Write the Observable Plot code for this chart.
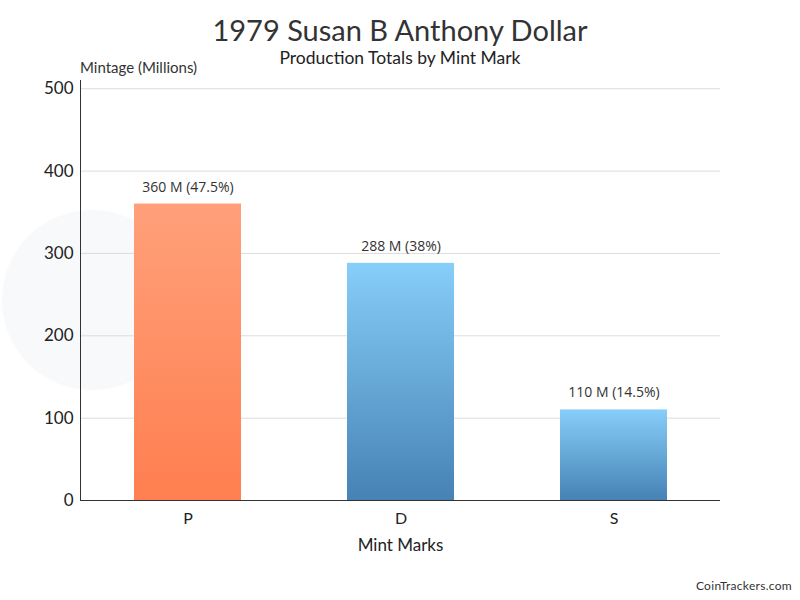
<!DOCTYPE html>
<html>
<head>
<meta charset="utf-8">
<script src="https://cdn.jsdelivr.net/npm/d3@7"></script>
<script src="https://cdn.jsdelivr.net/npm/@observablehq/plot@0.6"></script>
<style>
  html, body { margin: 0; padding: 0; background: #fff; }
  #wrap { position: relative; width: 800px; height: 600px; overflow: hidden; font-family: Lato, "Open Sans", sans-serif; color: #333; }
  .abs { position: absolute; white-space: nowrap; }
  #title { top: 12px; left: 0; width: 800px; text-align: center; font-size: 29px; color: #333; }
  #subtitle { top: 47px; left: 0; width: 800px; text-align: center; font-size: 17.5px; color: #222; }
  #ylabel { top: 58px; left: 80px; font-size: 15px; color: #333; }
  #credit { top: 578px; right: 8px; font-size: 12px; color: #333; letter-spacing: 0.3px; }
  #chart { position: absolute; top: 0; left: 0; }
</style>
</head>
<body>
<div id="wrap">
  <div id="chart"></div>
  <div class="abs" id="title">1979 Susan B Anthony Dollar</div>
  <div class="abs" id="subtitle">Production Totals by Mint Mark</div>
  <div class="abs" id="ylabel">Mintage (Millions)</div>
  <div class="abs" id="credit">CoinTrackers.com</div>
</div>
<script>
const mints = ["P", "D", "S"];
const mintage = [360, 288, 110];
const labels = ["360 M (47.5%)", "288 M (38%)", "110 M (14.5%)"];
const yTicks = [0, 100, 200, 300, 400, 500];

const data = mints.map((m, i) => ({mint: m, value: mintage[i], label: labels[i]}));

const plot = Plot.plot({
  width: 800,
  height: 600,
  marginTop: 80,
  marginLeft: 80,
  marginRight: 80,
  marginBottom: 100,
  style: {fontFamily: "Lato, 'Open Sans', sans-serif", color: "#333", background: "transparent"},
  x: {domain: mints, paddingInner: 0.5, paddingOuter: 0.25, label: null},
  y: {domain: [0, 510], label: null},
  marks: [
    () => {
      const ns = "http://www.w3.org/2000/svg";
      const g = document.createElementNS(ns, "g");
      g.innerHTML = `
        <defs>
          <linearGradient id="gradP" x1="0" y1="0" x2="0" y2="1">
            <stop offset="0" stop-color="#FFA07A"/>
            <stop offset="1" stop-color="#FF7F50"/>
          </linearGradient>
          <linearGradient id="gradB" x1="0" y1="0" x2="0" y2="1">
            <stop offset="0" stop-color="#87CEFA"/>
            <stop offset="1" stop-color="#4682B4"/>
          </linearGradient>
        </defs>
        <circle cx="92" cy="300" r="90" fill="#f8f9fb"/>`;
      return g;
    },
    Plot.gridY({ticks: yTicks.slice(1), stroke: "#dcdcdc", strokeOpacity: 1}),
    Plot.barY(data.filter(d => d.mint === "P"), {x: "mint", y: "value", fill: "url(#gradP)"}),
    Plot.barY(data.filter(d => d.mint !== "P"), {x: "mint", y: "value", fill: "url(#gradB)"}),
    Plot.text(data, {x: "mint", y: "value", text: "label", dy: -17, fontSize: 14, fill: "#333", fontFamily: "'Open Sans', sans-serif"}),
    Plot.axisY({ticks: yTicks, tickSize: 0, tickPadding: 7, fontSize: 17, fill: "#222", label: null}),
    Plot.axisX({tickSize: 0, tickPadding: 12, fontSize: 16, fill: "#222", label: null}),
    Plot.text(["Mint Marks"], {frameAnchor: "bottom", dy: 50, fontSize: 17, fill: "#222"}),
    Plot.frame({anchor: "left", stroke: "#333", strokeWidth: 1}),
    Plot.ruleY([0], {stroke: "#333", strokeWidth: 1.2})
  ]
});
document.getElementById("chart").appendChild(plot);
</script>
</body>
</html>
